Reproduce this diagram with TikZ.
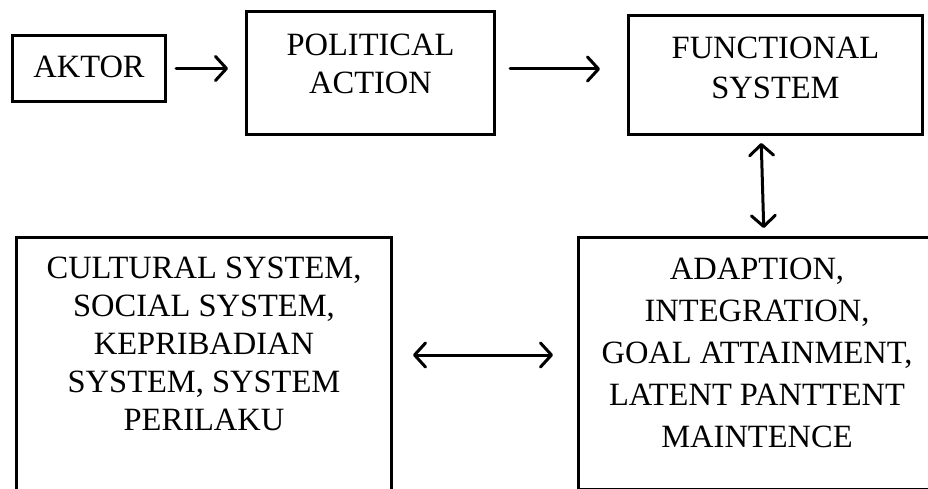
\documentclass[tikz,border=0pt]{standalone}
\usepackage{fontspec}
\setmainfont{Liberation Serif}
\usetikzlibrary{arrows.meta}
\newcommand\mydepth[1]{\rule[-#1]{0pt}{#1}}
\begin{document}
\begin{tikzpicture}[x=1pt,y=-1pt,
  box/.style={draw,line width=3pt,inner sep=0pt,outer sep=0pt,align=center},
  polfont/.style={font=\fontsize{32.5}{38}\selectfont},
  topfont/.style={font=\fontsize{32.5}{40.5}\selectfont},
  blfont/.style={font=\fontsize{32.5}{38}\selectfont},
  brfont/.style={font=\fontsize{32.5}{42}\selectfont},
  arr/.style={line width=3pt,line cap=round,-{Straight Barb[length=11pt,width=24pt,line width=3pt,round]}},
  darr/.style={line width=3pt,line cap=round,{Straight Barb[length=11pt,width=24pt,line width=3pt,round]}-{Straight Barb[length=11pt,width=24pt,line width=3pt,round]}}]
\useasboundingbox (0,0) rectangle (928,489);
\clip (0,0) rectangle (928,489);
\fill[white] (0,0) rectangle (928,489);
\node[box,topfont,minimum width=153pt,minimum height=66pt] (aktor) at (89,68.5) {AKTOR\mydepth{4pt}};
\node[box,polfont,minimum width=248pt,minimum height=123pt] (pol) at (370.5,73) {POLITICAL\\ACTION\mydepth{18pt}};
\node[box,topfont,minimum width=294pt,minimum height=119pt] (func) at (775.5,75) {FUNCTIONAL\\SYSTEM\mydepth{15pt}};
\node[box,blfont,minimum width=375pt,minimum height=266pt] (bl) at (204,370.5) {CULTURAL SYSTEM,\\SOCIAL SYSTEM,\\KEPRIBADIAN\\SYSTEM, SYSTEM\\PERILAKU\mydepth{53pt}};
\node[box,brfont,minimum width=357pt,minimum height=252pt] (br) at (757,363.5) {ADAPTION,\\INTEGRATION,\\GOAL ATTAINMENT,\\LATENT PANTTENT\\MAINTENCE\mydepth{22pt}};
\draw[arr,shorten <=10.5pt,shorten >=18.5pt] (aktor.east) -- (aktor.east -| pol.west);
\draw[arr,shorten <=15.5pt,shorten >=28.5pt] ([yshift=4pt]pol.east) -- ([yshift=4pt]pol.east -| func.west);
\draw[darr,shorten <=8.5pt,shorten >=9.5pt] ([xshift=-14.5pt]func.south) -- ([xshift=7pt]br.north);
\draw[darr,shorten <=21.5pt,shorten >=25.5pt] ([yshift=15.5pt]bl.east) -- ([yshift=15.5pt]bl.east -| br.west);
\end{tikzpicture}
\end{document}
